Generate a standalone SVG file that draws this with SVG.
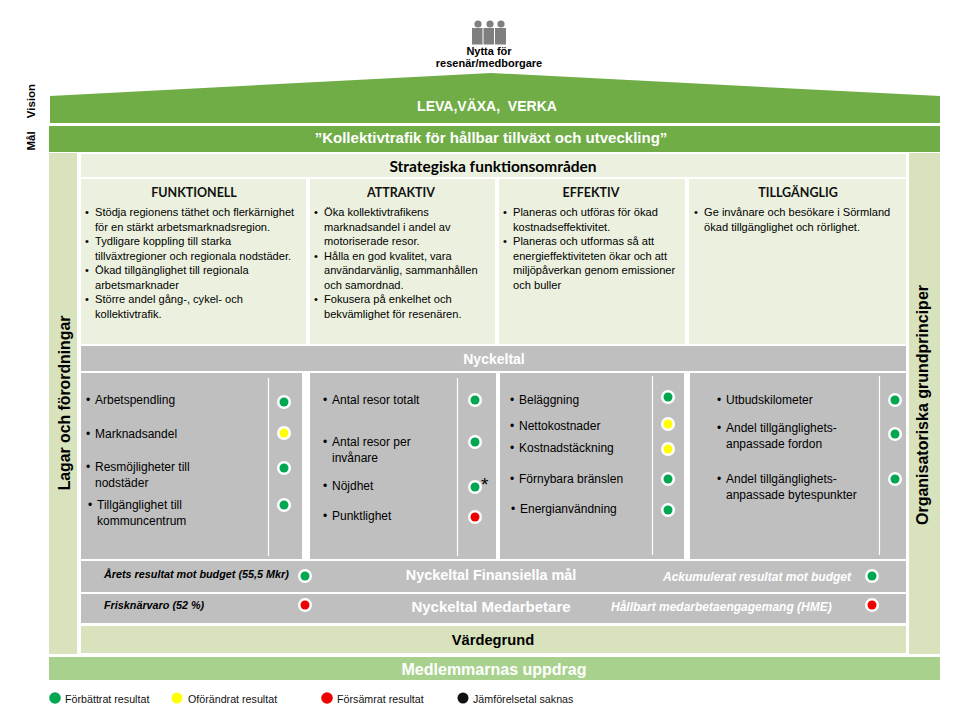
<svg xmlns="http://www.w3.org/2000/svg" width="960" height="720" viewBox="0 0 960 720">
<style>
text{font-family:"Liberation Sans",Arial,sans-serif;fill:#000}
.g1{fill:#70ad47}.g2{fill:#a9d18e}.pale{fill:#d8e2bc}.cream{fill:#ebf1de}.gray{fill:#bfbfbf}
.c{text-anchor:middle}
.wh{fill:#fff}.b{font-weight:bold}
.body{font-family:Lato,"Open Sans",sans-serif;font-size:11.100px;fill:#222}
.kpi{font-family:Lato,"Open Sans",sans-serif;font-size:12px;fill:#111}
.cap{font-family:Lato,"Open Sans",sans-serif;font-size:12.500px;font-weight:bold;text-anchor:middle;fill:#111}
.it{font-size:10.800px;font-style:italic;font-weight:bold}
.it2{font-size:12px;font-style:italic;font-weight:bold}
.leg{font-size:10.700px;fill:#111}
.ring{fill:#fff}.gd{fill:#00a650}.yd{fill:#ffff00}.rd{fill:#ee0000}
.ln{stroke:#fff;stroke-width:1.2;fill:none}
</style>
<g id="citizens">
<g fill="#7f7f7f"><circle cx="478" cy="24" r="3.6"/><circle cx="490" cy="24" r="3.6"/><circle cx="501" cy="24" r="3.6"/><rect x="472" y="28" width="10.500" height="16.500"/><rect x="483.500" y="28" width="10.500" height="16.500"/><rect x="495" y="28" width="11" height="16.500"/></g>
<text class="c b" x="489" y="55" font-size="11">Nytta för</text>
<text class="c b" x="489" y="67" font-size="11">resenär/medborgare</text>
</g>
<g id="vision"><polygon class="g1" points="50,96 491,73 940,96 940,123 50,123"/><text class="c b" style="fill:#fff;white-space:pre" x="487" y="111" font-size="14">LEVA,VÄXA,  VERKA</text>
<text class="b" transform="translate(35,101) rotate(-90)" text-anchor="middle" font-size="11.500">Vision</text></g>
<g id="goal"><rect class="g1" x="49" y="126" width="891" height="26"/><text class="c b" style="fill:#fff" x="491" y="143" font-size="15">”Kollektivtrafik för hållbar tillväxt och utveckling”</text>
<text class="b" transform="translate(35,141) rotate(-90)" text-anchor="middle" font-size="11.500">Mål</text></g>
<g id="laws"><rect class="pale" x="49" y="153" width="28" height="501"/><text class="b" transform="translate(70,403) rotate(-90)" text-anchor="middle" font-size="15.800">Lagar och förordningar</text></g>
<g id="principles"><rect class="pale" x="909" y="153" width="31" height="501"/><text class="b" transform="translate(928,405) rotate(-90)" text-anchor="middle" font-size="16">Organisatoriska grundprinciper</text></g>
<g id="areas"><rect class="cream" x="81" y="154" width="825" height="23"/><text class="c b" x="493" y="172" font-size="15.500" style="font-family:Lato,sans-serif">Strategiska funktionsområden</text></g>
<g id="funktionell"><rect class="cream" x="81" y="179" width="225" height="165"/>
<text class="cap" x="194" y="197">FUNKTIONELL</text>
<g class="body"><text x="85" y="216">•</text><text x="95" y="216">Stödja regionens täthet och flerkärnighet</text><text x="95" y="231">för en stärkt arbetsmarknadsregion.</text><text x="85" y="245">•</text><text x="95" y="245">Tydligare koppling till starka</text><text x="95" y="260">tillväxtregioner och regionala nodstäder.</text><text x="85" y="274">•</text><text x="95" y="274">Ökad tillgänglighet till regionala</text><text x="95" y="289">arbetsmarknader</text><text x="85" y="303">•</text><text x="95" y="303">Större andel gång-, cykel- och</text><text x="95" y="318">kollektivtrafik.</text></g></g>
<g id="attraktiv"><rect class="cream" x="310" y="179" width="185" height="165"/>
<text class="cap" x="401" y="197">ATTRAKTIV</text>
<g class="body"><text x="314" y="216">•</text><text x="324" y="216">Öka kollektivtrafikens</text><text x="324" y="231">marknadsandel i andel av</text><text x="324" y="245">motoriserade resor.</text><text x="314" y="260">•</text><text x="324" y="260">Hålla en god kvalitet, vara</text><text x="324" y="274">användarvänlig, sammanhållen</text><text x="324" y="289">och samordnad.</text><text x="314" y="303">•</text><text x="324" y="303">Fokusera på enkelhet och</text><text x="324" y="318">bekvämlighet för resenären.</text></g></g>
<g id="effektiv"><rect class="cream" x="499" y="179" width="186" height="165"/>
<text class="cap" x="591" y="197">EFFEKTIV</text>
<g class="body"><text x="503" y="216">•</text><text x="513" y="216">Planeras och utföras för ökad</text><text x="513" y="231">kostnadseffektivitet.</text><text x="503" y="245">•</text><text x="513" y="245">Planeras och utformas så att</text><text x="513" y="260">energieffektiviteten ökar och att</text><text x="513" y="274">miljöpåverkan genom emissioner</text><text x="513" y="289">och buller</text></g></g>
<g id="tillganglig"><rect class="cream" x="689" y="179" width="217" height="165"/>
<text class="cap" x="798" y="197">TILLGÄNGLIG</text>
<g class="body"><text x="694" y="216">•</text><text x="704" y="216">Ge invånare och besökare i Sörmland</text><text x="704" y="231">ökad tillgänglighet och rörlighet.</text></g></g>
<g id="nyckeltal"><rect class="gray" x="81" y="346" width="825" height="25"/><text class="c b" style="fill:#fff" x="494" y="364" font-size="14">Nyckeltal</text></g>
<g id="kpi1"><rect class="gray" x="81" y="373" width="221" height="186"/><line class="ln" x1="268.500" y1="378" x2="268.500" y2="556"/>
<g class="kpi"><text x="86" y="404">•</text><text x="95" y="404">Arbetspendling</text><text x="86" y="438">•</text><text x="95" y="438">Marknadsandel</text><text x="86" y="471">•</text><text x="95" y="471">Resmöjligheter till</text><text x="95" y="487">nodstäder</text><text x="88" y="509">•</text><text x="97" y="509">Tillgänglighet till</text><text x="97" y="525">kommuncentrum</text></g>
<g class="ring"><circle cx="284" cy="402" r="7"/><circle cx="284" cy="433" r="7"/><circle cx="284" cy="468" r="7"/><circle cx="284" cy="505" r="7"/></g>
<circle class="gd" cx="284" cy="402" r="4.500"/><circle class="yd" cx="284" cy="433" r="4.500"/><circle class="gd" cx="284" cy="468" r="4.500"/><circle class="gd" cx="284" cy="505" r="4.500"/></g>
<g id="kpi2"><rect class="gray" x="310" y="373" width="186" height="186"/><line class="ln" x1="457.500" y1="378" x2="457.500" y2="556"/>
<g class="kpi"><text x="323" y="404">•</text><text x="332" y="404">Antal resor totalt</text><text x="323" y="446">•</text><text x="332" y="446">Antal resor per</text><text x="332" y="462">invånare</text><text x="323" y="490">•</text><text x="332" y="490">Nöjdhet</text><text x="323" y="520">•</text><text x="332" y="520">Punktlighet</text></g>
<g class="ring"><circle cx="475" cy="400" r="7"/><circle cx="475" cy="442" r="7"/><circle cx="475" cy="487" r="7"/><circle cx="475" cy="517" r="7"/></g>
<circle class="gd" cx="475" cy="400" r="4.500"/><circle class="gd" cx="475" cy="442" r="4.500"/><circle class="gd" cx="475" cy="487" r="4.500"/><circle class="rd" cx="475" cy="517" r="4.500"/>
<text x="481" y="491" font-size="19">*</text></g>
<g id="kpi3"><rect class="gray" x="500" y="373" width="184" height="186"/><line class="ln" x1="652.500" y1="376" x2="652.500" y2="555"/>
<g class="kpi"><text x="510" y="404">•</text><text x="519" y="404">Beläggning</text><text x="510" y="430">•</text><text x="519" y="430">Nettokostnader</text><text x="510" y="452">•</text><text x="519" y="452">Kostnadstäckning</text><text x="510" y="483">•</text><text x="519" y="483">Förnybara bränslen</text><text x="511" y="513">•</text><text x="520" y="513">Energianvändning</text></g>
<g class="ring"><circle cx="668" cy="397" r="7"/><circle cx="668" cy="424" r="7"/><circle cx="668" cy="449" r="7"/><circle cx="668" cy="479" r="7"/><circle cx="668" cy="510" r="7"/></g>
<circle class="gd" cx="668" cy="397" r="4.500"/><circle class="yd" cx="668" cy="424" r="4.500"/><circle class="yd" cx="668" cy="449" r="4.500"/><circle class="gd" cx="668" cy="479" r="4.500"/><circle class="gd" cx="668" cy="510" r="4.500"/></g>
<g id="kpi4"><rect class="gray" x="690" y="373" width="216" height="186"/><line class="ln" x1="879.500" y1="376" x2="879.500" y2="555"/>
<g class="kpi"><text x="717" y="404">•</text><text x="726" y="404">Utbudskilometer</text><text x="717" y="432">•</text><text x="726" y="432">Andel tillgänglighets-</text><text x="726" y="448">anpassade fordon</text><text x="717" y="483">•</text><text x="726" y="483">Andel tillgänglighets-</text><text x="726" y="499">anpassade bytespunkter</text></g>
<g class="ring"><circle cx="895" cy="400" r="7"/><circle cx="895" cy="434" r="7"/><circle cx="895" cy="479" r="7"/></g>
<circle class="gd" cx="895" cy="400" r="4.500"/><circle class="gd" cx="895" cy="434" r="4.500"/><circle class="gd" cx="895" cy="479" r="4.500"/></g>
<g id="finance"><rect class="gray" x="81" y="561" width="825" height="31"/>
<text class="it" x="104" y="578">Årets resultat mot budget (55,5 Mkr)</text>
<circle class="ring" cx="305" cy="576" r="7"/><circle class="gd" cx="305" cy="576" r="4.500"/>
<text class="c b" style="fill:#fff" x="491" y="580" font-size="14.400">Nyckeltal Finansiella mål</text>
<text class="it2" style="fill:#fff" x="663" y="581">Ackumulerat resultat mot budget</text>
<circle class="ring" cx="872" cy="576" r="7"/><circle class="gd" cx="872" cy="576" r="4.500"/></g>
<g id="staff"><rect class="gray" x="81" y="594" width="825" height="29"/>
<text class="it" x="104" y="609">Frisknärvaro (52 %)</text>
<circle class="ring" cx="305" cy="605" r="7"/><circle class="rd" cx="305" cy="605" r="4.500"/>
<text class="c b" style="fill:#fff" x="491" y="612" font-size="15">Nyckeltal Medarbetare</text>
<text class="it2" style="fill:#fff" x="611" y="611">Hållbart medarbetaengagemang (HME)</text>
<circle class="ring" cx="872" cy="605" r="7"/><circle class="rd" cx="872" cy="605" r="4.500"/></g>
<g id="values"><rect class="pale" x="81" y="626" width="825" height="27"/><text class="c b" x="493" y="645" font-size="14.700">Värdegrund</text></g>
<g id="assignment"><rect class="g2" x="49" y="657" width="891" height="23"/><text class="c b" style="fill:#fff" x="494" y="675" font-size="16">Medlemmarnas uppdrag</text></g>
<g id="legend">
<circle class="gd" cx="55" cy="698" r="5.800"/><text class="leg" x="65" y="703">Förbättrat resultat</text>
<circle class="yd" cx="177" cy="698" r="5.500"/><text class="leg" x="188" y="703">Oförändrat resultat</text>
<circle class="rd" cx="327" cy="698" r="5.800"/><text class="leg" x="337" y="703">Försämrat resultat</text>
<circle fill="#111" cx="463" cy="698" r="5.500"/><text class="leg" x="473" y="703">Jämförelsetal saknas</text>
</g>
</svg>
